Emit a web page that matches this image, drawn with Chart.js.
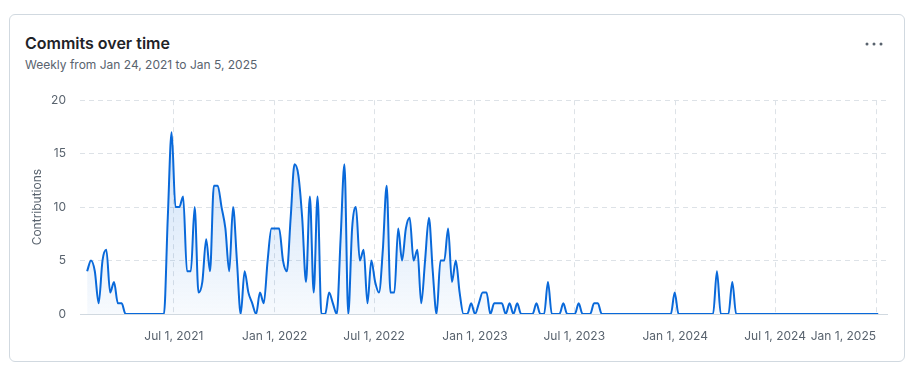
<!DOCTYPE html>
<html>
<head>
<meta charset="utf-8">
<script src="https://cdn.jsdelivr.net/npm/chart.js@4/dist/chart.umd.min.js"></script>
<style>
  html, body { margin: 0; padding: 0; background: #fff; }
  body { width: 918px; height: 371px; position: relative; font-family: Inter, "Noto Sans", sans-serif; overflow: hidden; }
  .card { position: absolute; left: 9px; top: 14px; width: 896px; height: 348px; box-sizing: border-box;
          border: 1px solid #d1d9e0; border-radius: 6px; }
  .title { position: absolute; left: 25px; top: 32px; margin: 0; font-size: 16px; line-height: 22px; font-weight: 600; color: #1f2328; }
  .subtitle { position: absolute; left: 25px; top: 56px; margin: 0; font-size: 12px; line-height: 18px; color: #59636e; }
  .menu { position: absolute; left: 865px; top: 36px; }
  .chart-box { position: absolute; left: 20px; top: 79px; width: 880px; height: 273px; }
</style>
</head>
<body>
<div class="card"></div>
<h2 class="title">Commits over time</h2>
<p class="subtitle">Weekly from Jan 24, 2021 to Jan 5, 2025</p>
<svg class="menu" width="18" height="16" viewBox="0 0 18 16">
  <circle cx="2" cy="8" r="1.5" fill="#59636e"/>
  <circle cx="9" cy="8" r="1.5" fill="#59636e"/>
  <circle cx="16" cy="8" r="1.5" fill="#59636e"/>
</svg>
<div class="chart-box"><canvas id="commitsChart"></canvas></div>

<script>
// weekly commit counts, first week starts Jan 24, 2021
const firstWeek = "2021-01-24";
const commits = [
    4, 5, 4, 1, 5, 6, 2, 3, 1, 1,
    0, 0, 0, 0, 0, 0, 0, 0, 0, 0,
    0, 9, 17, 10, 10, 11, 4, 4, 10, 2,
    3, 7, 4, 12, 12, 10, 8, 4, 10, 5,
    0, 4, 2, 1, 0, 2, 1, 5, 8, 8,
    8, 5, 4, 9, 14, 13, 9, 3, 11, 2,
    11, 0, 0, 2, 1, 0, 7, 14, 0, 8,
    10, 5, 6, 1, 5, 3, 2, 6, 12, 2,
    2, 8, 5, 8, 9, 5, 6, 1, 5, 9,
    4, 0, 5, 5, 8, 3, 5, 2, 0, 0,
    1, 0, 1, 2, 2, 0, 1, 1, 1, 0,
    1, 0, 1, 0, 0, 0, 0, 1, 0, 0,
    3, 0, 0, 0, 1, 0, 0, 0, 1, 0,
    0, 0, 1, 1, 0, 0, 0, 0, 0, 0,
    0, 0, 0, 0, 0, 0, 0, 0, 0, 0,
    0, 0, 0, 2, 0, 0, 0, 0, 0, 0,
    0, 0, 0, 0, 4, 0, 0, 0, 3, 0,
    0, 0, 0, 0, 0, 0, 0, 0, 0, 0,
    0, 0, 0, 0, 0, 0, 0, 0, 0, 0,
    0, 0, 0, 0, 0, 0, 0, 0, 0, 0,
    0, 0, 0, 0, 0, 0, 0
];
const tickDates = ["2021-07-01", "2022-01-01", "2022-07-01", "2023-01-01", "2023-07-01", "2024-01-01", "2024-07-01", "2025-01-01"];
const tickLabels = ["Jul 1, 2021", "Jan 1, 2022", "Jul 1, 2022", "Jan 1, 2023", "Jul 1, 2023", "Jan 1, 2024", "Jul 1, 2024", "Jan 1, 2025"];
const yTicks = [0, 5, 10, 15, 20];

document.addEventListener("DOMContentLoaded", () => {
    const DAY = 86400000;
    const start = Date.parse(firstWeek);
    const dayOf = (d) => Math.round((Date.parse(d) - start) / DAY);

    const points = commits.map((c, i) => ({ x: i * 7, y: c }));
    const tickDays = tickDates.map(dayOf);
    const xMin = -13;
    const xMax = (commits.length - 1) * 7 + 16;

    Chart.defaults.font.family = 'Inter, "Noto Sans", sans-serif';
    Chart.defaults.font.size = 12;
    Chart.defaults.color = "#59636e";

    const gridColor = "#dde2e7";

    const ctx = document.getElementById("commitsChart").getContext("2d");
    new Chart(ctx, {
        type: "line",
        data: {
            datasets: [{
                label: "Contributions",
                data: points,
                borderColor: "#0969da",
                borderWidth: 2,
                pointRadius: 0,
                cubicInterpolationMode: "monotone",
                fill: "origin",
                backgroundColor: (c) => {
                    const area = c.chart.chartArea;
                    if (!area) return "rgba(9,105,218,0.1)";
                    const g = c.chart.ctx.createLinearGradient(0, area.top, 0, area.bottom);
                    g.addColorStop(0, "rgba(9,105,218,0.24)");
                    g.addColorStop(1, "rgba(9,105,218,0.03)");
                    return g;
                }
            }]
        },
        options: {
            responsive: true,
            maintainAspectRatio: false,
            animation: false,
            layout: { padding: { top: 9, right: 13, left: 0, bottom: 0 } },
            plugins: {
                legend: { display: false },
                tooltip: { enabled: false }
            },
            scales: {
                x: {
                    type: "linear",
                    min: xMin,
                    max: xMax,
                    afterBuildTicks: (scale) => {
                        scale.ticks = [{ value: xMin }].concat(tickDays.map(v => ({ value: v })));
                    },
                    afterFit: (scale) => { scale.height = 38; },
                    ticks: {
                        autoSkip: false,
                        maxRotation: 0,
                        padding: 15,
                        align: "inner",
                        callback: (value, index) => index === 0 ? "" : tickLabels[index - 1]
                    },
                    grid: {
                        drawTicks: false,
                        color: (c) => (c.index === 0 ? "rgba(0,0,0,0)" : gridColor)
                    },
                    border: { display: true, color: "#d1d9e0", width: 1, dash: [5, 4] }
                },
                y: {
                    min: 0,
                    max: 20,
                    afterBuildTicks: (scale) => {
                        scale.ticks = yTicks.map(v => ({ value: v }));
                    },
                    afterFit: (scale) => { scale.width = 60; },
                    ticks: { padding: 14 },
                    grid: { drawTicks: false, color: gridColor },
                    border: { display: false, dash: [5, 4] },
                    title: {
                        display: true,
                        text: "Contributions",
                        padding: { top: 10, bottom: 0 },
                        font: { size: 12 }
                    }
                }
            }
        }
    });
});
</script>
</body>
</html>
